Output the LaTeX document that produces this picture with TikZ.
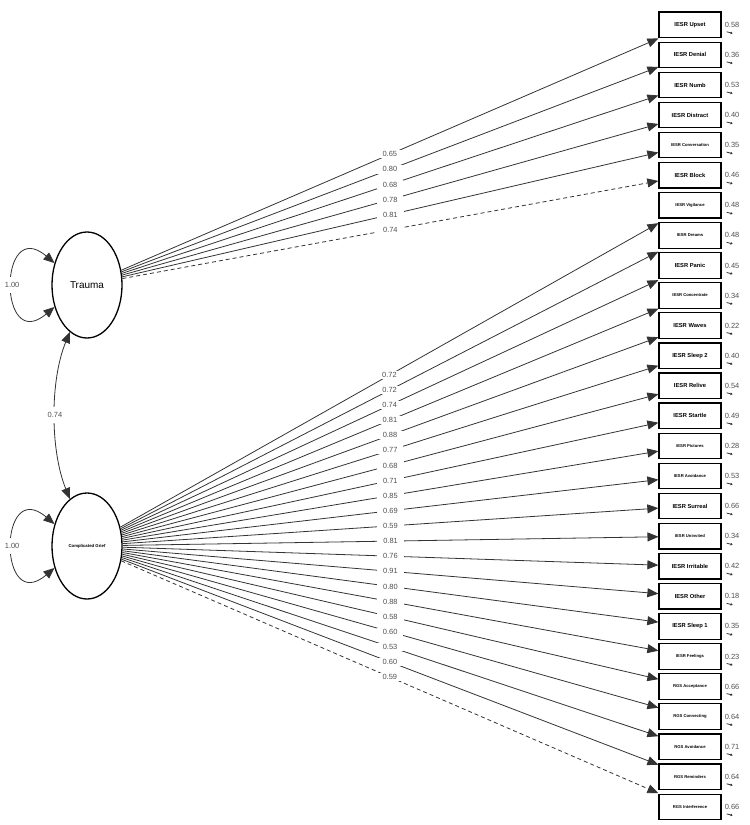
\documentclass[tikz,border=0pt]{standalone}
\usepackage{fontspec}
\setmainfont{Liberation Sans}
\usetikzlibrary{arrows.meta,shapes.geometric,calc}
\definecolor{edgegray}{HTML}{333333}
\definecolor{txtgray}{HTML}{505050}
\begin{document}
\begin{tikzpicture}[x=1bp,y=-1bp,
    latent/.style={ellipse,draw,line width=1.3bp,minimum width=70bp,minimum height=106bp,inner sep=0pt},
    obs/.style={rectangle,draw,line width=1.2bp,minimum width=62bp,minimum height=25.5bp,inner sep=0pt,font=\bfseries},
    load/.style={draw=edgegray,line width=0.8bp,-{Triangle[length=11bp,width=9bp]}},
    both/.style={draw=edgegray,line width=0.8bp,{Triangle[length=11bp,width=9bp]}-{Triangle[length=11bp,width=9bp]}},
    coef/.style={midway,fill=white,inner xsep=6bp,inner ysep=1.5bp,text=txtgray,font=\fontsize{7.5}{8}\selectfont},
    resid/.style={draw=edgegray,line width=0.8bp,-{Triangle[length=2bp,width=2.5bp]}},
    fix/.style={dash pattern=on 4bp off 3bp}]
    \useasboundingbox (0,0) rectangle (750,825);
    \node[latent,font=\fontsize{10}{11}\selectfont] (T) at (87,285) {Trauma};
    \node[latent,font=\bfseries\fontsize{4.3}{5}\selectfont] (G) at (87,546) {Complicated Grief};
    \foreach \lab/\fs/\res [count=\i] in {IESR Upset/5.8/0.58, IESR Denial/5.8/0.36, IESR Numb/5.8/0.53,
        IESR Distract/5.8/0.40, IESR Conversation/4.2/0.35, IESR Block/5.8/0.46, IESR Vigilance/4.2/0.48,
        IESR Dreams/4.2/0.48, IESR Panic/5.8/0.45, IESR Concentrate/4.2/0.34, IESR Waves/5.8/0.22,
        IESR Sleep 2/5.8/0.40, IESR Relive/5.8/0.54, IESR Startle/5.8/0.49, IESR Pictures/4.2/0.28,
        IESR Avoidance/4.2/0.53, IESR Surreal/5.8/0.66, IESR Uninvited/4.2/0.34, IESR Irritable/5.8/0.42,
        IESR Other/5.8/0.18, IESR Sleep 1/5.8/0.35, IESR Feelings/4.2/0.23, RGS Acceptance/4.2/0.66,
        RGS Connecting/4.2/0.64, RGS Avoidance/4.2/0.71, RGS Reminders/4.2/0.64, RGS Interference/4.2/0.66}{
        \node[obs] (b\i) at (690,{24.8+30.08*(\i-1)}) {\fontsize{\fs}{\fs}\selectfont\lab};
        \node[anchor=west,inner sep=0pt,text=txtgray,font=\fontsize{7.5}{8}\selectfont] (v\i) at ($(b\i.east)+(3,0)$) {\res};
        \draw[resid] ($(b\i.east)+(5,7)$) -- ($(b\i.east)+(11,8.5)$);
    }
    \foreach \i/\v in {1/0.65,2/0.80,3/0.68,4/0.78,5/0.81,6/0.74}{
        \coordinate (e\i) at (intersection of T.center--b\i.center and b\i.north west--b\i.south west);
    }
    \foreach \i/\v in {7/0.72,8/0.72,9/0.74,10/0.81,11/0.88,12/0.77,13/0.68,14/0.71,15/0.85,16/0.69,17/0.59,
        18/0.81,19/0.76,20/0.91,21/0.80,22/0.88,23/0.58,24/0.60,25/0.53,26/0.60,27/0.59}{
        \coordinate (e\i) at (intersection of G.center--b\i.center and b\i.north west--b\i.south west);
    }
    \foreach \i/\v in {1/0.65,2/0.80,3/0.68,4/0.78,5/0.81}
        \draw[load] (T) -- (e\i) node[coef] {\v};
    \draw[load,fix] (T) -- (e6) node[coef] {0.74};
    \foreach \i/\v in {7/0.72,8/0.72,9/0.74,10/0.81,11/0.88,12/0.77,13/0.68,14/0.71,15/0.85,16/0.69,17/0.59,
        18/0.81,19/0.76,20/0.91,21/0.80,22/0.88,23/0.58,24/0.60,25/0.53,26/0.60}
        \draw[load] (G) -- (e\i) node[coef] {\v};
    \draw[load,fix] (G) -- (e27) node[coef] {0.59};
    \draw[both] (T.146) .. controls (-2,215) and (-2,355) .. (T.214) node[coef,inner xsep=1bp,inner ysep=5bp] {1.00};
    \draw[both] (G.146) .. controls (-2,476) and (-2,616) .. (G.214) node[coef,inner xsep=1bp,inner ysep=5bp] {1.00};
    \draw[both] (T.250) .. controls (50,380) and (50,450) .. (G.110) node[coef,inner xsep=1bp,inner ysep=5bp] {0.74};
\end{tikzpicture}
\end{document}
